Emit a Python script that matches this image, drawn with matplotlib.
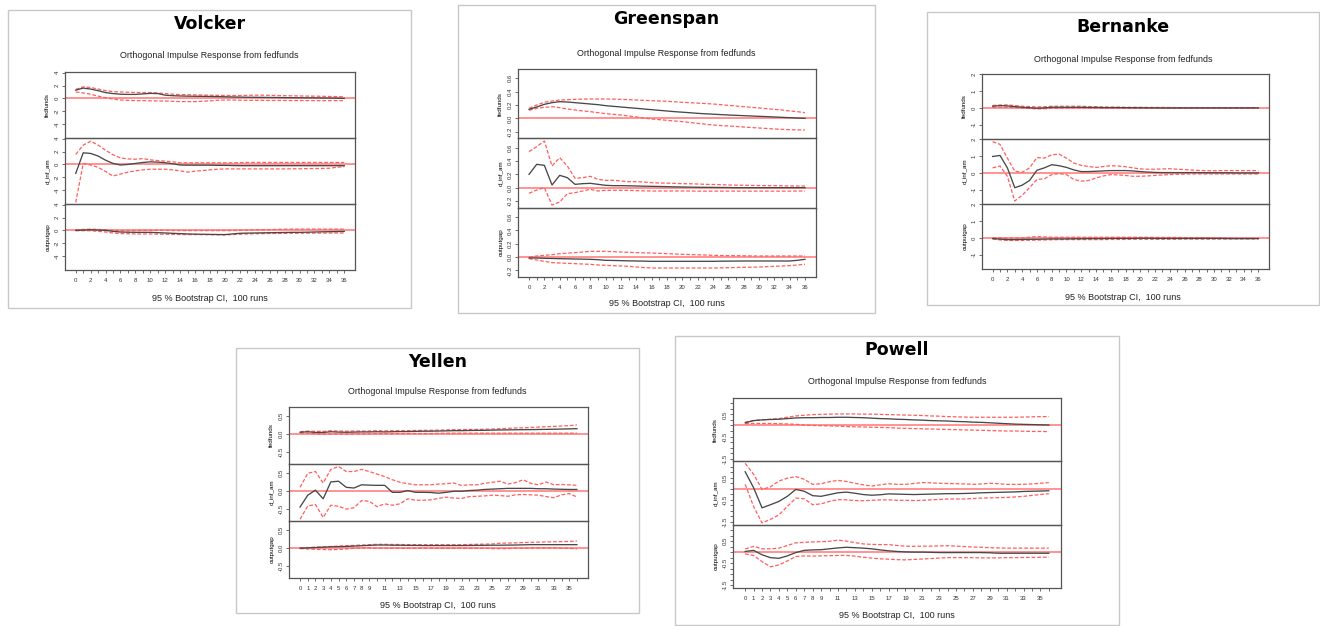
import matplotlib
matplotlib.use("Agg")
import matplotlib.pyplot as plt
from matplotlib.patches import Rectangle

# horizon 0..36
horizon = list(range(37))
resp_names = ["fedfunds", "d_inf_am", "outputgap"]

# ---- Volcker ----
volcker_fed_irf = [1.28,1.6,1.45,1.2,0.9,0.75,0.65,0.62,0.62,0.7,0.78,0.75,0.5,0.42,0.38,0.35,0.33,0.32,0.3,0.28,0.25,0.22,0.2,0.18,0.17,0.16,0.15,0.14,0.12,0.11,0.1,0.09,0.08,0.06,0.05,0.03,0.0]
volcker_fed_up = [1.4,1.8,1.7,1.45,1.2,1.05,1.0,0.95,0.92,0.9,0.9,0.85,0.75,0.65,0.6,0.58,0.55,0.52,0.5,0.48,0.45,0.45,0.45,0.48,0.5,0.5,0.48,0.45,0.42,0.4,0.38,0.36,0.35,0.33,0.3,0.28,0.25]
volcker_fed_lo = [1.0,0.85,0.65,0.35,0.1,-0.1,-0.25,-0.3,-0.35,-0.35,-0.38,-0.4,-0.42,-0.45,-0.5,-0.5,-0.5,-0.45,-0.38,-0.3,-0.25,-0.25,-0.28,-0.3,-0.3,-0.3,-0.32,-0.32,-0.33,-0.33,-0.33,-0.34,-0.35,-0.35,-0.35,-0.35,-0.35]
volcker_inf_irf = [-1.4,1.8,1.7,1.3,0.65,0.15,-0.1,0.0,0.15,0.3,0.4,0.35,0.25,0.1,-0.1,-0.12,-0.12,-0.12,-0.12,-0.15,-0.15,-0.18,-0.2,-0.2,-0.2,-0.2,-0.2,-0.2,-0.2,-0.2,-0.2,-0.2,-0.2,-0.2,-0.2,-0.2,-0.2]
volcker_inf_up = [1.55,3.0,3.6,3.0,2.2,1.5,1.0,0.85,0.8,0.9,0.7,0.6,0.5,0.4,0.25,0.25,0.25,0.25,0.25,0.25,0.25,0.25,0.27,0.3,0.3,0.3,0.3,0.3,0.3,0.3,0.3,0.3,0.3,0.3,0.3,0.3,0.3]
volcker_inf_lo = [-5.9,0.15,-0.1,-0.45,-1.1,-1.8,-1.5,-1.2,-1.0,-0.85,-0.75,-0.75,-0.75,-0.85,-1.0,-1.2,-1.05,-0.95,-0.85,-0.75,-0.7,-0.7,-0.7,-0.7,-0.7,-0.7,-0.7,-0.7,-0.7,-0.68,-0.68,-0.66,-0.64,-0.62,-0.6,-0.45,-0.35]
volcker_gap_irf = [0.0,0.05,0.1,0.05,0.0,-0.15,-0.25,-0.28,-0.3,-0.3,-0.3,-0.35,-0.4,-0.45,-0.5,-0.55,-0.58,-0.6,-0.62,-0.64,-0.65,-0.55,-0.45,-0.42,-0.4,-0.38,-0.36,-0.34,-0.32,-0.3,-0.3,-0.28,-0.25,-0.22,-0.2,-0.18,-0.15]
volcker_gap_up = [0.1,0.15,0.2,0.15,0.1,0.0,-0.05,-0.05,-0.03,0.0,0.0,0.0,0.0,-0.02,-0.03,-0.03,-0.03,-0.03,-0.03,-0.03,-0.03,-0.03,0.0,0.05,0.1,0.1,0.12,0.15,0.18,0.2,0.2,0.2,0.2,0.2,0.2,0.2,0.2]
volcker_gap_lo = [-0.05,-0.05,-0.05,-0.15,-0.25,-0.4,-0.5,-0.52,-0.55,-0.55,-0.55,-0.58,-0.6,-0.62,-0.64,-0.65,-0.65,-0.66,-0.68,-0.68,-0.7,-0.65,-0.6,-0.55,-0.52,-0.5,-0.48,-0.47,-0.46,-0.45,-0.44,-0.43,-0.42,-0.42,-0.41,-0.4,-0.4]

# ---- Greenspan ----
greenspan_fed_irf = [0.135,0.17,0.21,0.235,0.25,0.245,0.235,0.225,0.215,0.205,0.19,0.18,0.17,0.16,0.15,0.14,0.13,0.12,0.11,0.1,0.092,0.084,0.075,0.068,0.062,0.056,0.05,0.045,0.04,0.035,0.03,0.026,0.02,0.015,0.01,0.005,0.0]
greenspan_fed_up = [0.15,0.2,0.24,0.26,0.275,0.28,0.285,0.288,0.29,0.29,0.29,0.288,0.285,0.28,0.275,0.27,0.265,0.26,0.255,0.248,0.24,0.235,0.228,0.222,0.215,0.205,0.195,0.185,0.175,0.165,0.155,0.145,0.135,0.125,0.11,0.1,0.085]
greenspan_fed_lo = [0.12,0.15,0.165,0.175,0.16,0.14,0.125,0.112,0.1,0.085,0.07,0.06,0.05,0.035,0.02,0.005,-0.01,-0.02,-0.03,-0.04,-0.05,-0.062,-0.075,-0.088,-0.1,-0.108,-0.115,-0.122,-0.13,-0.138,-0.145,-0.152,-0.16,-0.165,-0.17,-0.173,-0.175]
greenspan_inf_irf = [0.2,0.35,0.335,0.04,0.185,0.15,0.05,0.06,0.065,0.05,0.035,0.03,0.03,0.028,0.025,0.022,0.02,0.018,0.015,0.012,0.01,0.008,0.006,0.005,0.004,0.003,0.002,0.0,0.0,0.0,0.0,0.0,0.0,0.0,0.0,0.0,0.0]
greenspan_inf_up = [0.54,0.615,0.7,0.325,0.45,0.325,0.14,0.15,0.17,0.125,0.11,0.11,0.1,0.09,0.09,0.085,0.075,0.07,0.068,0.065,0.06,0.058,0.055,0.05,0.048,0.045,0.04,0.038,0.036,0.034,0.032,0.03,0.03,0.028,0.026,0.025,0.025]
greenspan_inf_lo = [-0.085,-0.035,0.0,-0.26,-0.215,-0.09,-0.075,-0.05,-0.025,-0.05,-0.04,-0.04,-0.04,-0.04,-0.045,-0.048,-0.05,-0.05,-0.05,-0.05,-0.05,-0.05,-0.052,-0.052,-0.052,-0.052,-0.052,-0.052,-0.052,-0.052,-0.052,-0.052,-0.052,-0.052,-0.052,-0.05,-0.05]
greenspan_gap_irf = [-0.015,-0.015,-0.02,-0.022,-0.025,-0.027,-0.03,-0.032,-0.035,-0.04,-0.05,-0.052,-0.055,-0.058,-0.06,-0.062,-0.065,-0.065,-0.065,-0.065,-0.065,-0.065,-0.065,-0.065,-0.065,-0.063,-0.062,-0.061,-0.06,-0.06,-0.06,-0.06,-0.06,-0.06,-0.06,-0.05,-0.035]
greenspan_gap_up = [0.0,0.015,0.025,0.035,0.05,0.058,0.065,0.075,0.085,0.085,0.085,0.08,0.075,0.07,0.065,0.062,0.06,0.055,0.05,0.045,0.04,0.037,0.033,0.03,0.025,0.022,0.02,0.02,0.018,0.016,0.015,0.015,0.015,0.015,0.015,0.015,0.015]
greenspan_gap_lo = [-0.025,-0.045,-0.065,-0.085,-0.09,-0.095,-0.1,-0.105,-0.11,-0.12,-0.125,-0.13,-0.135,-0.14,-0.15,-0.158,-0.165,-0.165,-0.165,-0.165,-0.165,-0.165,-0.165,-0.165,-0.165,-0.163,-0.16,-0.158,-0.155,-0.153,-0.15,-0.145,-0.14,-0.135,-0.13,-0.12,-0.11]

# ---- Bernanke ----
bernanke_fed_irf = [0.1,0.14,0.12,0.08,0.04,0.01,-0.02,0.0,0.04,0.04,0.04,0.04,0.04,0.03,0.03,0.02,0.02,0.02,0.015,0.01,0.01,0.005,0.005,0,0,0,0,0,0,0,0,0,0,0,0,0,0]
bernanke_fed_up = [0.15,0.17,0.18,0.14,0.1,0.08,0.06,0.07,0.1,0.1,0.1,0.1,0.1,0.08,0.07,0.06,0.05,0.05,0.04,0.04,0.04,0.03,0.03,0.03,0.025,0.02,0.02,0.02,0.02,0.02,0.02,0.02,0.02,0.02,0.02,0.02,0.02]
bernanke_fed_lo = [0.04,0.05,0.04,0.02,0.0,-0.03,-0.06,-0.05,-0.02,-0.01,0.0,0.0,0.0,-0.01,-0.01,-0.01,-0.01,-0.02,-0.02,-0.02,-0.02,-0.02,-0.02,-0.02,-0.02,-0.02,-0.02,-0.02,-0.02,-0.02,-0.02,-0.02,-0.02,-0.02,-0.02,-0.02,-0.02]
bernanke_inf_irf = [0.98,1.04,0.3,-0.88,-0.73,-0.45,0.16,0.3,0.49,0.43,0.33,0.18,0.08,0.08,0.1,0.12,0.14,0.14,0.14,0.12,0.08,0.05,0.03,0.02,0.02,0.02,0.02,0.02,0.02,0.01,0.01,0.01,0.01,0.0,0.0,0.0,0.0]
bernanke_inf_up = [1.86,1.7,0.88,0.1,0.04,0.3,0.92,0.88,1.08,1.12,0.88,0.59,0.45,0.38,0.33,0.38,0.43,0.41,0.37,0.3,0.24,0.22,0.22,0.24,0.25,0.22,0.2,0.17,0.15,0.13,0.13,0.14,0.14,0.14,0.14,0.14,0.14]
bernanke_inf_lo = [0.3,0.41,-0.2,-1.67,-1.33,-0.88,-0.39,-0.35,-0.1,-0.04,-0.1,-0.39,-0.49,-0.45,-0.3,-0.18,-0.1,-0.12,-0.15,-0.2,-0.2,-0.18,-0.15,-0.12,-0.1,-0.08,-0.07,-0.06,-0.06,-0.06,-0.06,-0.06,-0.06,-0.06,-0.06,-0.06,-0.06]
bernanke_gap_irf = [-0.04,-0.07,-0.1,-0.1,-0.09,-0.08,-0.08,-0.07,-0.06,-0.06,-0.06,-0.05,-0.05,-0.04,-0.04,-0.04,-0.03,-0.03,-0.03,-0.03,-0.02,-0.02,-0.03,-0.03,-0.03,-0.03,-0.03,-0.03,-0.03,-0.03,-0.03,-0.03,-0.04,-0.04,-0.04,-0.04,-0.04]
bernanke_gap_up = [0.0,0.0,-0.02,-0.01,0.0,0.04,0.08,0.06,0.04,0.04,0.04,0.04,0.04,0.04,0.04,0.04,0.04,0.04,0.04,0.04,0.04,0.04,0.03,0.03,0.03,0.03,0.02,0.02,0.02,0.01,0.0,-0.01,-0.01,-0.02,-0.02,-0.02,-0.02]
bernanke_gap_lo = [-0.06,-0.12,-0.15,-0.15,-0.15,-0.14,-0.13,-0.12,-0.11,-0.1,-0.1,-0.1,-0.1,-0.1,-0.1,-0.1,-0.09,-0.09,-0.09,-0.08,-0.08,-0.08,-0.08,-0.08,-0.08,-0.08,-0.07,-0.07,-0.07,-0.07,-0.07,-0.07,-0.06,-0.06,-0.06,-0.06,-0.06]

# ---- Yellen ----
yellen_fed_irf = [0.055,0.07,0.05,0.05,0.07,0.06,0.055,0.06,0.065,0.065,0.07,0.065,0.07,0.075,0.075,0.08,0.085,0.085,0.09,0.095,0.1,0.1,0.105,0.108,0.11,0.115,0.12,0.122,0.125,0.128,0.13,0.133,0.136,0.14,0.145,0.15,0.155]
yellen_fed_up = [0.07,0.09,0.08,0.08,0.1,0.09,0.085,0.09,0.09,0.09,0.1,0.095,0.1,0.1,0.1,0.105,0.11,0.11,0.115,0.12,0.13,0.13,0.135,0.135,0.14,0.145,0.155,0.165,0.175,0.18,0.19,0.2,0.21,0.22,0.23,0.24,0.26]
yellen_fed_lo = [0.03,0.03,0.01,0.0,0.01,0.005,0.0,0.01,0.01,0.01,0.02,0.015,0.015,0.02,0.02,0.02,0.02,0.02,0.025,0.03,0.03,0.03,0.03,0.03,0.03,0.03,0.03,0.03,0.03,0.03,0.03,0.03,0.03,0.03,0.03,0.03,0.03]
yellen_inf_irf = [-0.44,-0.11,0.03,-0.21,0.26,0.28,0.11,0.09,0.18,0.17,0.165,0.165,-0.03,-0.03,0.02,-0.03,-0.03,-0.035,-0.055,-0.03,0.0,0.0,0.02,0.03,0.05,0.06,0.07,0.08,0.08,0.08,0.08,0.07,0.07,0.06,0.055,0.05,0.05]
yellen_inf_up = [0.11,0.5,0.55,0.23,0.61,0.69,0.55,0.55,0.61,0.55,0.48,0.41,0.32,0.25,0.21,0.18,0.18,0.18,0.2,0.21,0.23,0.16,0.18,0.18,0.22,0.25,0.28,0.2,0.24,0.32,0.22,0.18,0.26,0.18,0.19,0.18,0.165]
yellen_inf_lo = [-0.78,-0.41,-0.37,-0.73,-0.39,-0.42,-0.5,-0.46,-0.26,-0.28,-0.43,-0.35,-0.39,-0.35,-0.21,-0.25,-0.25,-0.24,-0.2,-0.165,-0.19,-0.2,-0.15,-0.14,-0.13,-0.11,-0.12,-0.14,-0.1,-0.09,-0.1,-0.11,-0.15,-0.18,-0.1,-0.065,-0.16]
yellen_gap_irf = [0.0,0.01,0.02,0.03,0.04,0.045,0.05,0.06,0.07,0.08,0.09,0.09,0.085,0.085,0.08,0.08,0.075,0.075,0.075,0.075,0.075,0.075,0.078,0.08,0.082,0.085,0.085,0.088,0.09,0.095,0.1,0.1,0.1,0.1,0.1,0.1,0.1]
yellen_gap_up = [0.01,0.02,0.03,0.04,0.05,0.06,0.07,0.08,0.09,0.1,0.11,0.11,0.105,0.105,0.1,0.1,0.1,0.1,0.1,0.1,0.1,0.1,0.105,0.11,0.115,0.12,0.14,0.145,0.15,0.16,0.165,0.17,0.175,0.18,0.185,0.19,0.2]
yellen_gap_lo = [-0.01,-0.02,-0.03,-0.035,-0.04,-0.035,-0.02,0.0,0.01,0.01,0.0,0.0,0.0,0.0,0.0,0.0,0.0,0.0,0.0,0.0,0.0,0.0,0.0,0.0,0.0,-0.01,-0.01,-0.01,0.0,0.0,0.01,0.01,0.01,0.01,0.0,0.0,-0.02]

# ---- Powell ----
powell_fed_irf = [0.12,0.22,0.25,0.27,0.28,0.31,0.34,0.35,0.35,0.36,0.36,0.37,0.37,0.36,0.35,0.33,0.31,0.3,0.28,0.27,0.25,0.24,0.22,0.21,0.2,0.18,0.17,0.15,0.14,0.12,0.1,0.08,0.06,0.05,0.04,0.03,0.02]
powell_fed_up = [0.15,0.22,0.26,0.28,0.31,0.37,0.43,0.46,0.49,0.5,0.51,0.52,0.52,0.52,0.51,0.51,0.5,0.49,0.48,0.47,0.46,0.45,0.43,0.42,0.4,0.39,0.38,0.37,0.37,0.37,0.37,0.37,0.37,0.38,0.39,0.4,0.4]
powell_fed_lo = [0.08,0.09,0.09,0.09,0.08,0.07,0.05,0.02,0.0,-0.01,-0.02,-0.03,-0.05,-0.06,-0.07,-0.08,-0.09,-0.1,-0.12,-0.13,-0.14,-0.15,-0.16,-0.17,-0.18,-0.19,-0.2,-0.21,-0.22,-0.23,-0.24,-0.25,-0.25,-0.26,-0.27,-0.27,-0.28]
powell_inf_irf = [0.77,0.05,-0.86,-0.72,-0.57,-0.34,-0.03,-0.11,-0.31,-0.34,-0.26,-0.18,-0.15,-0.2,-0.26,-0.29,-0.27,-0.23,-0.24,-0.25,-0.26,-0.25,-0.24,-0.23,-0.22,-0.22,-0.21,-0.2,-0.18,-0.17,-0.16,-0.15,-0.14,-0.12,-0.11,-0.1,-0.09]
powell_inf_up = [1.15,0.66,-0.03,0.09,0.35,0.48,0.55,0.43,0.2,0.23,0.32,0.38,0.33,0.25,0.18,0.12,0.18,0.23,0.2,0.2,0.24,0.28,0.27,0.25,0.24,0.23,0.22,0.2,0.22,0.25,0.23,0.2,0.2,0.2,0.22,0.25,0.28]
powell_inf_lo = [0.2,-0.8,-1.54,-1.38,-1.18,-0.8,-0.42,-0.45,-0.72,-0.68,-0.57,-0.49,-0.5,-0.53,-0.54,-0.52,-0.5,-0.5,-0.52,-0.52,-0.53,-0.52,-0.5,-0.48,-0.46,-0.46,-0.46,-0.44,-0.42,-0.41,-0.4,-0.39,-0.37,-0.34,-0.3,-0.26,-0.22]
powell_gap_irf = [0.03,0.08,-0.12,-0.25,-0.28,-0.17,-0.02,0.08,0.1,0.11,0.15,0.19,0.22,0.2,0.18,0.15,0.1,0.06,0.03,0.01,0.0,0.0,-0.01,-0.02,-0.02,-0.02,-0.02,-0.02,-0.02,-0.03,-0.05,-0.05,-0.05,-0.05,-0.05,-0.05,-0.05]
powell_gap_up = [0.14,0.26,0.15,0.15,0.18,0.3,0.42,0.44,0.46,0.47,0.49,0.54,0.5,0.43,0.37,0.35,0.34,0.34,0.3,0.27,0.26,0.27,0.27,0.28,0.29,0.27,0.25,0.23,0.22,0.2,0.19,0.18,0.18,0.18,0.18,0.18,0.18]
powell_gap_lo = [-0.08,-0.15,-0.43,-0.66,-0.58,-0.4,-0.2,-0.17,-0.18,-0.17,-0.16,-0.15,-0.15,-0.18,-0.23,-0.27,-0.3,-0.32,-0.34,-0.35,-0.33,-0.31,-0.29,-0.27,-0.25,-0.25,-0.25,-0.25,-0.26,-0.26,-0.26,-0.25,-0.25,-0.24,-0.24,-0.23,-0.23]

even_labels = list(range(0, 37, 2))
odd_labels = list(range(0, 10)) + list(range(11, 37, 2))

W, H = 1320, 626
fig = plt.figure(figsize=(W / 100, H / 100), dpi=100)
fig.patch.set_facecolor("white")

RFONT = ["Liberation Sans", "DejaVu Sans"]
IRF_COL = "#484848"
CI_COL = "#ff5e5e"
ZERO_COL = "#ff8080"


def frac(x0, y0, x1, y1):
    return [x0 / W, 1 - y1 / H, (x1 - x0) / W, (y1 - y0) / H]


def draw_panel(name, box, axbox, title_y, sub_y, cap_y, series, ylim,
               yticks, ylabels, yminor, xlabels):
    bx0, by0, bx1, by1 = box
    fig.patches.append(Rectangle((bx0 / W, 1 - by1 / H), (bx1 - bx0) / W,
                                 (by1 - by0) / H, transform=fig.transFigure,
                                 fc="white", ec="#c8c8c8", lw=1.0, zorder=-5))
    cx = (bx0 + bx1) / 2 / W
    fig.text(cx, 1 - title_y / H, name, ha="center", va="center",
             fontsize=12.5, fontweight="bold", family="DejaVu Sans")
    fig.text(cx, 1 - sub_y / H, "Orthogonal Impulse Response from fedfunds",
             ha="center", va="center", fontsize=6.4, family=RFONT, color="#222222")
    fig.text(cx, 1 - cap_y / H, "95 % Bootstrap CI,  100 runs",
             ha="center", va="center", fontsize=6.5, family=RFONT, color="#222222")

    ax0, ay0, ax1, ay1 = axbox
    step = (ay1 - ay0) / 3
    for i, (irf, up, lo) in enumerate(series):
        top = ay0 + i * step
        ax = fig.add_axes(frac(ax0, top, ax1, top + step))
        ax.set_zorder(2)
        ax.axhline(0, color=ZERO_COL, lw=1.2, zorder=1)
        ax.plot(horizon, up, color=CI_COL, lw=0.9, ls=(0, (3, 1.5)), zorder=2)
        ax.plot(horizon, lo, color=CI_COL, lw=0.9, ls=(0, (3, 1.5)), zorder=2)
        ax.plot(horizon, irf, color=IRF_COL, lw=0.95, zorder=3)
        ax.set_xlim(-1.44, 37.44)
        ax.set_ylim(*ylim)
        ticks = yminor if yminor is not None else yticks
        ax.set_yticks(ticks)
        ax.set_yticklabels([ylabels[yticks.index(t)] if t in yticks else "" for t in ticks])
        ax.tick_params(axis="y", labelrotation=90, labelsize=4.3, length=2.5,
                       width=0.5, pad=1.5, colors="#333333")
        for lab in ax.get_yticklabels():
            lab.set_va("center")
            lab.set_family(RFONT)
        ax.set_ylabel(resp_names[i], fontsize=4.5, family=RFONT, labelpad=3)
        ax.set_xticks(horizon)
        if i == 2:
            ax.set_xticklabels([str(h) if h in xlabels else "" for h in horizon],
                               fontsize=4.3, family=RFONT)
            ax.tick_params(axis="x", length=2.5, width=0.5, pad=3, colors="#333333")
        else:
            ax.tick_params(axis="x", length=0, labelbottom=False)
        for sp in ax.spines.values():
            sp.set_color("#555555")
            sp.set_linewidth(0.9)
        ax.set_facecolor("none")


draw_panel("Volcker", (8, 10, 411, 308), (65, 72, 355, 270), 24, 56, 298,
           [(volcker_fed_irf, volcker_fed_up, volcker_fed_lo),
            (volcker_inf_irf, volcker_inf_up, volcker_inf_lo),
            (volcker_gap_irf, volcker_gap_up, volcker_gap_lo)],
           (-6.15, 4.1), [-4, -2, 0, 2, 4], ["-4", "-2", "0", "2", "4"], None,
           even_labels)

draw_panel("Greenspan", (458, 5, 875, 313), (518, 69, 816, 277), 19, 53, 303,
           [(greenspan_fed_irf, greenspan_fed_up, greenspan_fed_lo),
            (greenspan_inf_irf, greenspan_inf_up, greenspan_inf_lo),
            (greenspan_gap_irf, greenspan_gap_up, greenspan_gap_lo)],
           (-0.3, 0.74), [-0.2, 0.0, 0.2, 0.4, 0.6],
           ["-0.2", "0.0", "0.2", "0.4", "0.6"], None, even_labels)

draw_panel("Bernanke", (927, 12, 1319, 305), (982, 74, 1269, 269), 27, 59, 297,
           [(bernanke_fed_irf, bernanke_fed_up, bernanke_fed_lo),
            (bernanke_inf_irf, bernanke_inf_up, bernanke_inf_lo),
            (bernanke_gap_irf, bernanke_gap_up, bernanke_gap_lo)],
           (-1.85, 2.02), [-1, 0, 1, 2], ["-1", "0", "1", "2"], None,
           even_labels)

draw_panel("Yellen", (236, 348, 639, 613), (289, 407, 588, 578), 362, 392, 605,
           [(yellen_fed_irf, yellen_fed_up, yellen_fed_lo),
            (yellen_inf_irf, yellen_inf_up, yellen_inf_lo),
            (yellen_gap_irf, yellen_gap_up, yellen_gap_lo)],
           (-0.83, 0.76), [-0.5, 0.0, 0.5], ["-0.5", "0.0", "0.5"], None,
           odd_labels)

draw_panel("Powell", (675, 336, 1119, 625), (733, 398, 1061, 588), 350, 382, 616,
           [(powell_fed_irf, powell_fed_up, powell_fed_lo),
            (powell_inf_irf, powell_inf_up, powell_inf_lo),
            (powell_gap_irf, powell_gap_up, powell_gap_lo)],
           (-1.62, 1.24), [-1.5, -0.5, 0.5], ["-1.5", "-0.5", "0.5"],
           [-1.5, -1.25, -1.0, -0.75, -0.5, -0.25, 0.0, 0.25, 0.5, 0.75, 1.0],
           odd_labels)

fig.savefig("out.png", dpi=100, facecolor="white")
